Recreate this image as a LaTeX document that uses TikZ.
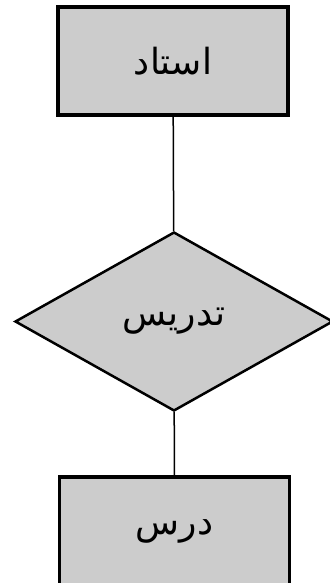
\documentclass[tikz,border=0pt]{standalone}
\usepackage{fontspec}
\newfontfamily\arabicfont[Script=Arabic]{DejaVu Sans}
\TeXXeTstate=1
\usetikzlibrary{shapes.geometric}
\definecolor{boxfill}{HTML}{CCCCCC}

\begin{document}
\begin{tikzpicture}[x=1pt, y=-1pt,
  font=\arabicfont\fontsize{36}{40}\selectfont,
  entity/.style={draw, fill=boxfill, line width=3.5pt, minimum width=230pt, minimum height=108pt},
  relation/.style={diamond, draw, fill=boxfill, line width=2.5pt, minimum width=318pt, minimum height=179pt, inner sep=0pt}]
  \useasboundingbox (0,0) rectangle (329,583);
  \node[entity] (ostad) at (173,61) {\beginR استاد\endR};
  \node[relation] (tadris) at (174,321.5) {\beginR تدریس\endR};
  \node[entity] (dars) at (174.5,531) {\beginR درس\endR};
  \draw[line width=1.5pt] (ostad) -- (tadris);
  \draw[line width=1.5pt] (tadris) -- (dars);
\end{tikzpicture}
\end{document}
